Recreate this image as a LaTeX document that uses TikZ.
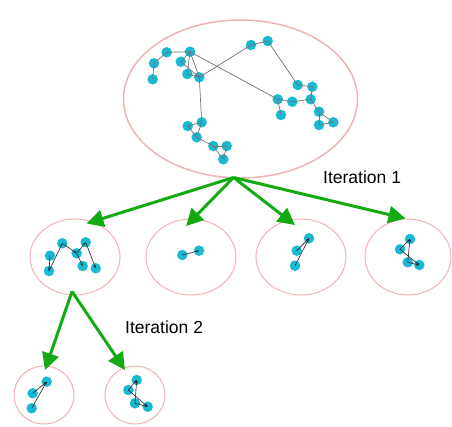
\documentclass[tikz,border=0pt]{standalone}
\usepackage{fontspec}
\setmainfont{Liberation Sans}
\usetikzlibrary{shapes.geometric,arrows.meta}
\definecolor{vcol}{RGB}{25,185,210}
\definecolor{ecol}{RGB}{240,178,178}
\definecolor{gcol}{RGB}{20,170,20}
\tikzset{
  vtx/.style={circle,fill=vcol,inner sep=0pt,minimum size=10.5pt},
  grp/.style={ellipse,draw=ecol,line width=1pt,inner sep=0pt},
  bigedge/.style={draw=black!55,line width=0.7pt},
  smedge/.style={draw=black!85,line width=0.6pt,-{Stealth[length=3pt,width=2.5pt]}},
  garrow/.style={draw=gcol,line width=3pt,-{Triangle[length=17pt,width=17pt]}},
  lbl/.style={font=\fontsize{17.5}{20}\selectfont,inner sep=0pt}
}
\begin{document}
\begin{tikzpicture}[x=1pt,y=-1pt]
\useasboundingbox (0,0) rectangle (452,426);
% group ellipses
\node[grp,line width=1.5pt,minimum width=234pt,minimum height=158pt] (E0) at (240.5,99) {};
\node[grp,minimum width=90pt,minimum height=76pt] (E1) at (75,257) {};
\node[grp,minimum width=90pt,minimum height=76pt] (E2) at (191,257) {};
\node[grp,minimum width=90pt,minimum height=76pt] (E3) at (301,257) {};
\node[grp,minimum width=86pt,minimum height=76pt] (E4) at (408,257) {};
\node[grp,minimum width=60pt,minimum height=58pt] (F1) at (44,395) {};
\node[grp,minimum width=60pt,minimum height=58pt] (F2) at (135,395) {};
% big graph vertices
\foreach \n/\x/\y in {a/166.7/52.3, b/190/51.7, c/154/63.3, d/152.7/79.3, e/180.7/61.7,
  f/187.3/74, g/199.3/77.3, h/251/45, i/267.7/41, j/297.7/85, k/312.3/86.7,
  l/277.7/99.3, m/292.3/101.7, n/310.7/99.3, o/281/115, p/319/111.7, q/319/125,
  r/333.3/122.3, s/201.7/122.3, t/187.7/126, u/196.7/137.3, v/213.3/146,
  w/226.7/146, x/223.3/159.3}
  \node[vtx] (\n) at (\x,\y) {};
\foreach \p/\q in {a/b, a/c, c/d, b/e, b/f, b/g, e/g, f/g, g/h, h/i, i/j, b/l,
  j/k, k/n, l/m, m/n, l/o, n/p, p/q, q/r, p/r, g/s, s/t, t/u, s/u, u/v, v/w, w/x, v/x}
  \draw[bigedge] (\p.center) -- (\q.center);
% group 1
\node[vtx] (A1) at (50,255.7) {};
\node[vtx] (A2) at (49,271) {};
\node[vtx] (A3) at (62.3,243.3) {};
\node[vtx] (A4) at (76.7,253.3) {};
\node[vtx] (A5) at (85.7,242.3) {};
\node[vtx] (A6) at (82.7,266) {};
\node[vtx] (A7) at (95.7,268.3) {};
\foreach \p/\q in {A1/A2, A2/A3, A3/A4, A4/A5, A5/A7, A4/A6}
  \draw[smedge] (\p.center) -- (\q.center);
% group 2
\node[vtx] (B1) at (182.3,255) {};
\node[vtx] (B2) at (199,250.7) {};
\draw[smedge] (B1.center) -- (B2.center);
% group 3
\node[vtx] (C1) at (309,238.3) {};
\node[vtx] (C2) at (296.7,250.7) {};
\node[vtx] (C3) at (295,265.7) {};
\draw[smedge] (C2.center) -- (C1.center);
\draw[smedge] (C3.center) -- (C1.center);
% group 4
\node[vtx] (D1) at (410,239) {};
\node[vtx] (D2) at (400,249.3) {};
\node[vtx] (D3) at (407.7,262.3) {};
\node[vtx] (D4) at (419.3,265) {};
\draw[smedge] (D2.center) -- (D1.center);
\draw[smedge] (D3.center) -- (D1.center);
\draw[smedge] (D2.center) -- (D4.center);
\draw[smedge] (D3.center) -- (D4.center);
% group 5
\node[vtx] (G1) at (46.7,381.7) {};
\node[vtx] (G2) at (32.7,393.3) {};
\node[vtx] (G3) at (31.7,408.3) {};
\draw[smedge] (G2.center) -- (G1.center);
\draw[smedge] (G3.center) -- (G1.center);
% group 6
\node[vtx] (H1) at (136.7,380) {};
\node[vtx] (H2) at (128.3,390) {};
\node[vtx] (H3) at (135,403.3) {};
\node[vtx] (H4) at (147.7,406.7) {};
\draw[smedge] (H2.center) -- (H1.center);
\draw[smedge] (H3.center) -- (H1.center);
\draw[smedge] (H2.center) -- (H4.center);
\draw[smedge] (H3.center) -- (H4.center);
% arrows
\coordinate (O1) at (233.5,177.5);
\coordinate (T1) at (86.5,223.5);
\coordinate (T2) at (186,226);
\coordinate (T3) at (295,225);
\coordinate (T4) at (405.5,218.5);
\coordinate (O2) at (72,291.5);
\coordinate (T5) at (45,370);
\coordinate (T6) at (125,370);
\foreach \t in {T1,T2,T3,T4} \draw[garrow] (O1) -- (\t);
\foreach \t in {T5,T6} \draw[garrow] (O2) -- (\t);
% labels
\node[lbl,anchor=west] (L1) at (323,177) {Iteration 1};
\node[lbl,anchor=west] (L2) at (125,327) {Iteration 2};
\end{tikzpicture}
\end{document}
